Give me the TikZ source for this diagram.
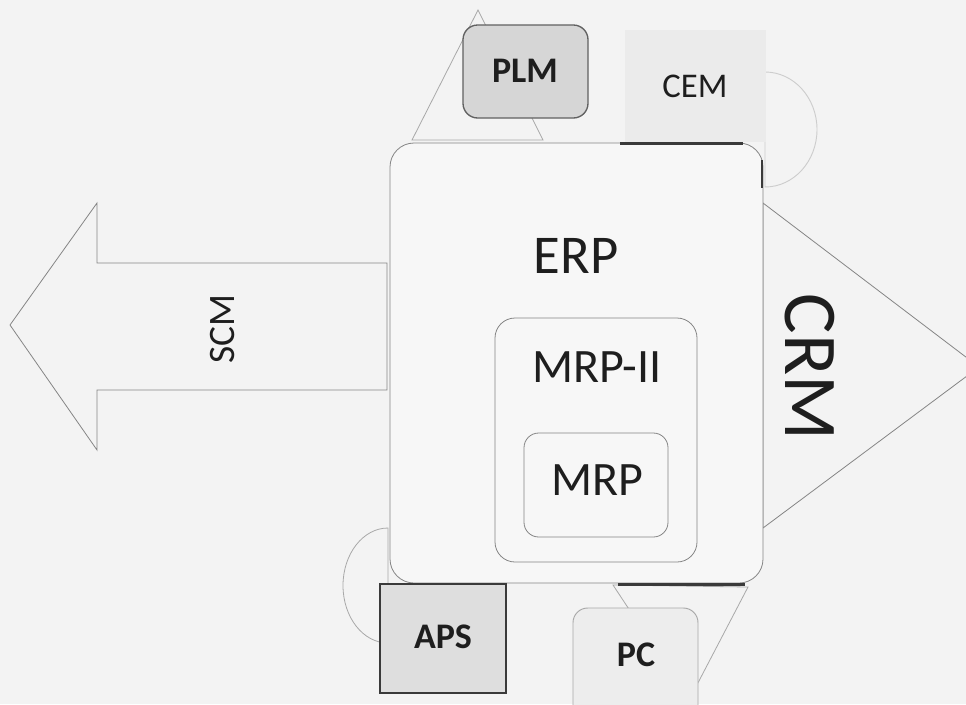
\documentclass[tikz,border=0pt]{standalone}
\usepackage{fontspec}
\setmainfont{Carlito}
\definecolor{paper}{HTML}{F3F3F3}
\definecolor{panel}{HTML}{F7F7F7}
\definecolor{outline}{HTML}{858585}
\definecolor{faintline}{HTML}{A8A8A8}
\definecolor{ghost}{HTML}{CDCDCD}
\definecolor{ink}{HTML}{1E1E1E}
\definecolor{darkedge}{HTML}{3A3A3A}
\begin{document}
\begin{tikzpicture}[x=0.75pt,y=-0.75pt,
  shapeline/.style={draw=outline, line width=0.6pt, fill=panel},
  backline/.style={draw=faintline, line width=0.6pt, fill=paper},
  ghostline/.style={draw=ghost, line width=0.7pt, fill=paper},
  heavy/.style={draw=darkedge, line width=1.6pt},
  lbl/.style={inner sep=0pt, text=ink, anchor=base},
  bold lbl/.style={lbl, font=\bfseries\fontsize{27pt}{27pt}\selectfont}]
\useasboundingbox (0,0) rectangle (966,704);
\clip (0,0) rectangle (966,704);
\fill[paper] (0,0) rectangle (966,704);

% half discs tucked behind CEM and APS
\path[ghostline] (765,72) arc[start angle=-90, end angle=90, x radius=52, y radius=57.5] -- cycle;
\path[backline] (388,528) arc[start angle=-90, end angle=-270, x radius=45, y radius=57.5] -- cycle;

% triangles behind PLM and PC
\path[backline] (478,10) -- (543,140) -- (412,140) -- cycle;
\path[backline] (613,585) -- (748,587) -- (689,700) -- cycle;

% SCM arrow pointing left
\path[shapeline, fill=paper] (10,325) -- (97,203) -- (97,263) -- (387,263)
  -- (387,390) -- (97,390) -- (97,450) -- cycle;

% CRM triangle pointing right
\path[shapeline, fill=paper] (763,203) -- (979,367) -- (763,528) -- cycle;

% nested ERP / MRP-II / MRP boxes
\path[shapeline, rounded corners=18pt] (390,143) rectangle (763,583);
\path[shapeline, rounded corners=15pt] (495,318) rectangle (697,562);
\path[shapeline, rounded corners=11pt] (524,433) rectangle (668,537);

% satellite modules
\path[draw=darkedge!80, line width=1pt, fill=black!16, rounded corners=11pt] (463,25) rectangle (588,118);
\fill[black!8] (625,30) rectangle (766,142);
\path[draw=darkedge, line width=1.5pt, fill=black!13] (380,584) rectangle (506,693);
\path[draw=faintline, line width=0.7pt, fill=black!7, rounded corners=11pt] (573,608) rectangle (698,730);

% dark edge strokes
\draw[heavy] (620,143.5) -- (743,143.5);
\draw[heavy] (618,584.5) -- (745,584.5);
\draw[heavy] (762,160) -- (762,188);

% labels
\node[lbl, font=\fontsize{41pt}{41pt}\selectfont] (erp) at (576,273) {ERP};
\node[lbl, font=\fontsize{36pt}{36pt}\selectfont] (mrpii) at (597,382) {MRP-II};
\node[lbl, font=\fontsize{36pt}{36pt}\selectfont] (mrp) at (597,495) {MRP};
\node[bold lbl] (plm) at (525,82) {PLM};
\node[lbl, font=\fontsize{26pt}{26pt}\selectfont] (cem) at (695,97) {CEM};
\node[bold lbl] (aps) at (443,648) {APS};
\node[bold lbl] (pc) at (636,666) {PC};
\node[lbl, rotate=-90, font=\fontsize{57pt}{57pt}\selectfont] (crm) at (785,367) {CRM};
\node[lbl, rotate=90, font=\fontsize{28pt}{28pt}\selectfont] (scm) at (234,329) {SCM};
\end{tikzpicture}
\end{document}
